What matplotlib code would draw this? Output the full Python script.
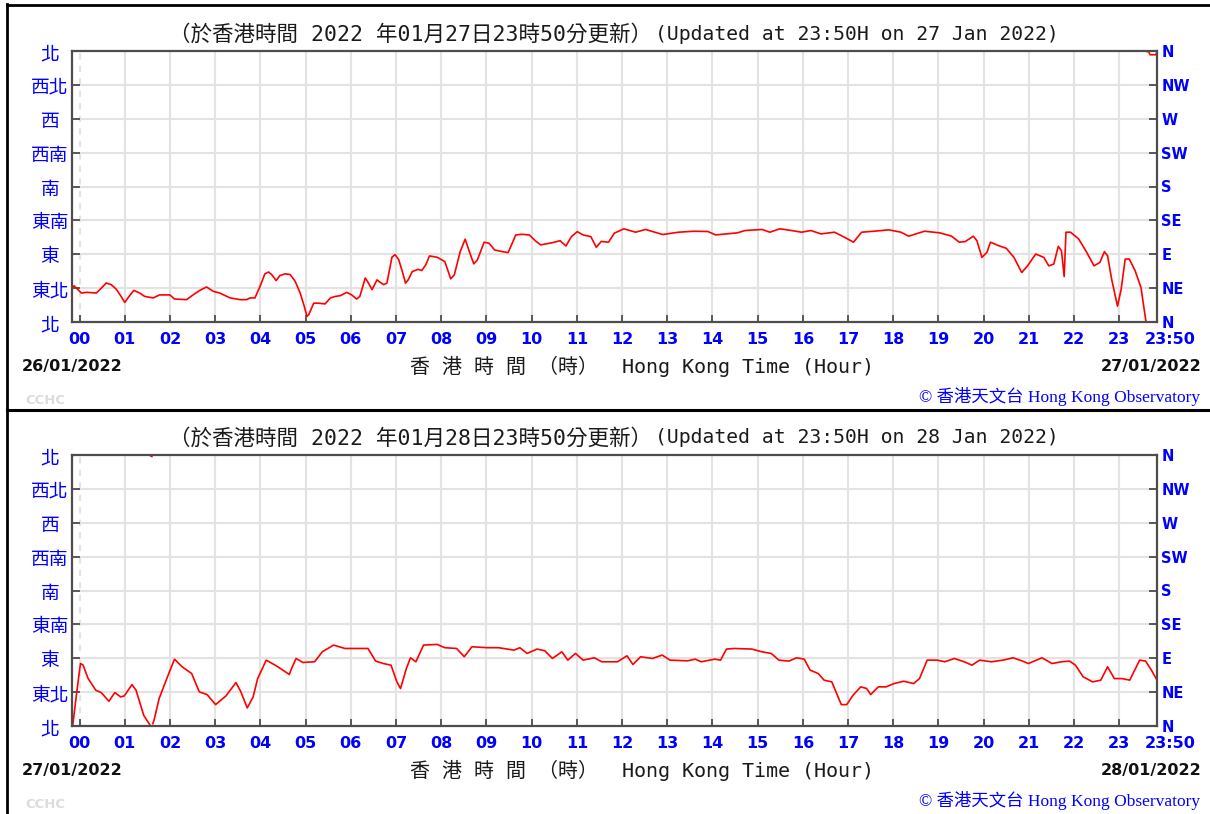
import matplotlib
matplotlib.use("Agg")
import matplotlib.pyplot as plt
from matplotlib.lines import Line2D
from matplotlib.transforms import ScaledTranslation
import numpy as np

# ---------------- data ----------------
hour_ticks = list(range(24)) + [23 + 50 / 60]
hour_labels = ["%02d" % h for h in range(24)] + ["23:50"]
dir_ticks = [0, 45, 90, 135, 180, 225, 270, 315, 360]
dir_labels_cn = ["北", "東北", "東", "東南", "南", "西南", "西", "西北", "北"]
dir_labels_en = ["N", "NE", "E", "SE", "S", "SW", "W", "NW", "N"]

titles_cn = [
    "（於香港時間 2022 年01月27日23時50分更新）",
    "（於香港時間 2022 年01月28日23時50分更新）",
]
titles_en = [
    "(Updated at 23:50H on 27 Jan 2022)",
    "(Updated at 23:50H on 28 Jan 2022)",
]
start_dates = ["26/01/2022", "27/01/2022"]
end_dates = ["27/01/2022", "28/01/2022"]

top_hours = [-0.167, -0.12, 0.04, 0.15, 0.37, 0.45, 0.59, 0.7, 0.81, 0.92, 1.0, 1.07, 1.2,
             1.33, 1.44, 1.63, 1.77, 2.0, 2.1, 2.37, 2.51, 2.66, 2.81, 2.96, 3.1, 3.33, 3.55,
             3.7, 3.77, 3.88, 3.99, 4.1, 4.18, 4.25, 4.35, 4.43, 4.55, 4.66, 4.77, 4.88, 4.97,
             5.03, 5.07, 5.18, 5.29, 5.43, 5.55, 5.66, 5.77, 5.91, 6.02, 6.13, 6.2, 6.32, 6.39,
             6.47, 6.58, 6.65, 6.73, 6.8, 6.91, 6.98, 7.06, 7.15, 7.21, 7.27, 7.36, 7.49, 7.57,
             7.66, 7.74, 7.91, 8.08, 8.21, 8.29, 8.42, 8.53, 8.61, 8.72, 8.8, 8.95, 9.06, 9.18,
             9.35, 9.48, 9.65, 9.78, 9.95, 10.08, 10.2, 10.46, 10.63, 10.76, 10.88, 11.01, 11.14,
             11.31, 11.43, 11.54, 11.7, 11.83, 12.04, 12.3, 12.52, 12.9, 13.25, 13.6, 13.9,
             14.07, 14.55, 14.72, 15.1, 15.27, 15.49, 15.75, 15.97, 16.18, 16.4, 16.7, 16.92,
             17.12, 17.3, 17.57, 17.9, 18.17, 18.34, 18.69, 19.03, 19.29, 19.46, 19.59, 19.77,
             19.85, 19.96, 20.07, 20.15, 20.33, 20.5, 20.67, 20.84, 20.97, 21.15, 21.33, 21.44,
             21.55, 21.65, 21.72, 21.78, 21.82, 21.92, 22.1, 22.27, 22.44, 22.57, 22.67, 22.74,
             22.83, 22.96, 23.04, 23.13, 23.22, 23.35, 23.48, 23.59, 23.6, 23.65, 23.68, 23.8,
             23.833]
top_dirs = [46.5, 48, 38.5, 39.4, 38.5, 43, 51.8, 49.6, 43.8, 34, 26, 32, 42,
            38.5, 34, 32, 36, 36, 30.5, 29.7, 36, 42, 46.5, 40.7, 38.5, 32, 29.7,
            29.7, 32, 32, 47, 64, 66.4, 63, 55, 61.6, 64, 63, 54, 38.5, 21,
            7.5, 9.7, 25, 25, 24, 32, 34, 35, 39.4, 36, 30.5, 34, 58.5, 51.8,
            43, 56, 52.7, 49.6, 51.8, 86, 89.5, 82.8, 65, 51.6, 56, 67, 70, 68.4,
            76, 87.8, 86, 80.3, 57.4, 62.6, 93.5, 110, 95.7, 77.2, 82.5, 106, 104.6, 95.7,
            93.5, 92.2, 115.6, 116.5, 115.6, 108, 102.4, 105.4, 108, 101, 113.4, 120, 115.6,
            113.4, 99.3, 107, 106, 118, 123.8, 119.3, 122.9, 116.2, 119.3, 120.6, 120.2,
            115.7, 118.4, 121.5, 122.9, 119.3, 123.8, 121.5, 119.3, 121.5, 117, 119.3, 112.6,
            106, 119.3, 120.6, 122.4, 119.3, 114, 120.6, 118.4, 114, 106, 106.8, 114,
            108, 85.8, 92.5, 106, 101.4, 97.9, 85.8, 65.7, 74.6, 90.3, 85.8, 74.6,
            76.9, 100.5, 94.7, 60.3, 119.3, 119.3, 110.4, 93.4, 74.6, 79.1, 93.4, 88,
            56.8, 21, 43.4, 83.6, 83.6, 68, 45.6, 0, 359.5, 359, 355, 355,
            358]

bot_hours = [-0.167, -0.16, -0.15, -0.07, 0.02, 0.08, 0.19, 0.36, 0.48, 0.65, 0.78, 0.91, 0.99,
             1.16, 1.25, 1.42, 1.55, 1.57, 1.6, 1.62, 1.65, 1.76, 1.93, 2.1, 2.27, 2.48, 2.65,
             2.82, 3.01, 3.24, 3.46, 3.57, 3.71, 3.84, 3.94, 4.13, 4.35, 4.52, 4.64, 4.69, 4.79,
             4.94, 5.2, 5.37, 5.62, 5.87, 6.38, 6.55, 6.72, 6.89, 7.02, 7.1, 7.23, 7.32, 7.44,
             7.61, 7.91, 8.08, 8.34, 8.51, 8.68, 9.02, 9.27, 9.61, 9.74, 9.9, 10.12, 10.29, 10.46,
             10.67, 10.8, 10.97, 11.14, 11.39, 11.55, 11.9, 12.11, 12.24, 12.41, 12.67, 12.89,
             13.06, 13.45, 13.62, 13.75, 14.05, 14.18, 14.31, 14.48, 14.87, 15.09, 15.3, 15.47,
             15.69, 15.86, 16.03, 16.16, 16.34, 16.47, 16.64, 16.85, 16.97, 17.11, 17.28, 17.41,
             17.5, 17.67, 17.84, 18.02, 18.23, 18.45, 18.58, 18.75, 18.97, 19.14, 19.35, 19.57,
             19.74, 19.91, 20.17, 20.43, 20.65, 20.86, 20.99, 21.29, 21.51, 21.72, 21.9, 22.03,
             22.2, 22.41, 22.59, 22.74, 22.89, 23.06, 23.23, 23.45, 23.58, 23.71, 23.833]
bot_dirs = [359, 358, 1, 41, 83, 80.8, 63, 47.5, 44.4, 32.9, 44.4, 38.6, 40,
            55, 47.5, 14.2, 2, 359, 358, 3, 8, 36.4, 63, 88.8, 78.6, 69.7, 45.3,
            41.8, 28.4, 40, 57.7, 45.3, 24, 38.6, 63, 87.5, 80, 73.3, 68.4, 76.4, 89.7,
            84.4, 85.3, 98.6, 107.5, 103, 103, 86.2, 83, 80.8, 58.6, 49.8, 76.4, 90.6, 85.3,
            107.5, 108.4, 104, 103, 92, 105.3, 104, 104, 100.8, 104, 96.4, 102.2, 100, 89.7,
            98.6, 87.5, 96.4, 87.5, 90.6, 85.3, 85.3, 93.3, 81.7, 92, 89.7, 94.2,
            87.5, 86.6, 88.8, 85.3, 88.8, 87.5, 102.2, 103, 102.2, 98.6, 96.4, 87.5,
            86.2, 90.6, 88.8, 74.2, 69.7, 60.9, 58.6, 28.4, 28.4, 40.9, 52, 49.8,
            41.8, 52, 52, 56.4, 59.5, 56.4, 63, 87.5, 87.5, 85.3, 89.7, 85.3,
            80.8, 87.5, 85.3, 87.5, 90.6, 86.2, 83, 90.6, 83, 85.3, 86.2, 80.8,
            65.3, 58.6, 60.9, 78.6, 63, 63, 60.9, 87.5, 86.2, 74.2, 60.9]

# ---------------- figure ----------------
W, H = 1210, 814
fig = plt.figure(figsize=(W / 100, H / 100), dpi=100)
fig.patch.set_facecolor("white")

CJK = ["Noto Sans CJK TC", "DejaVu Sans"]
MONO = ["DejaVu Sans Mono", "Noto Sans CJK TC"]
SERIF = ["Liberation Serif", "Noto Sans CJK TC"]
BLUE = "#0000ff"
GRID = "#e3e3e3"
SPINE = "#4d4d4d"


def fx(px):
    return px / W


def fy(py):
    return 1 - py / H


def segments(h, d):
    h = np.asarray(h, float)
    d = np.asarray(d, float)
    breaks = np.where(np.abs(np.diff(d)) > 180)[0] + 1
    return zip(np.split(h, breaks), np.split(d, breaks))


panels = [(top_hours, top_dirs), (bot_hours, bot_dirs)]
for i, (hrs, dirs) in enumerate(panels):
    off = i * 404
    ax = fig.add_axes([fx(72), fy(322 + off), 1085 / W, 271 / H])
    ax.set_xlim(-1 / 6, 23 + 50 / 60)
    ax.set_ylim(0, 360)

    for h in range(24):
        ax.axvline(h, color=GRID, lw=1.5, zorder=0,
                   ls=(0, (3, 3)) if h == 0 else "-")
    for d in dir_ticks[1:-1]:
        ax.axhline(d, color=GRID, lw=1.5, zorder=0)

    for sh, sd in segments(hrs, dirs):
        ax.plot(sh, sd, color="#ff0000", lw=1.2, zorder=3)

    for s in ax.spines.values():
        s.set_color(SPINE)
        s.set_linewidth(1.6)
        s.set_zorder(4)

    ax.set_xticks(hour_ticks)
    ax.set_xticklabels(hour_labels, fontsize=11.5, fontweight="bold",
                       color=BLUE, family="DejaVu Sans")
    ax.tick_params(axis="x", direction="in", length=5, width=1.3,
                   color=SPINE, pad=7)
    lbl = ax.get_xticklabels()[-1]
    lbl.set_transform(lbl.get_transform() +
                      ScaledTranslation(13 / 100, 0, fig.dpi_scale_trans))

    ax.set_yticks(dir_ticks)
    ax.set_yticklabels(dir_labels_cn, fontsize=13.5, color=BLUE,
                       family=CJK, ha="center")
    ax.tick_params(axis="y", direction="in", length=6, width=1.3,
                   color=SPINE, pad=16)

    ax2 = ax.twinx()
    ax2.set_ylim(0, 360)
    ax2.set_yticks(dir_ticks)
    ax2.set_yticklabels(dir_labels_en, fontsize=10.5, fontweight="bold",
                        color=BLUE, family="DejaVu Sans")
    ax2.tick_params(axis="y", direction="in", length=6, width=1.3,
                    color=SPINE, pad=3)
    for s in ax2.spines.values():
        s.set_visible(False)

    # texts
    fig.text(fx(652), fy(34 + off), titles_cn[i], ha="right", va="center",
             fontsize=15.5, family=MONO, color="#1a1a1a")
    fig.text(fx(655), fy(34 + off), titles_en[i], ha="left", va="center",
             fontsize=14.2, family=MONO, color="#1a1a1a")
    fig.text(fx(410), fy(366 + off),
             "香 港 時 間 （時）  Hong Kong Time (Hour)",
             ha="left", va="center", fontsize=14.4, family=MONO,
             color="#1a1a1a")
    fig.text(fx(22), fy(366 + off), start_dates[i], ha="left", va="center",
             fontsize=11.5, fontweight="bold", color="#111111",
             family="DejaVu Sans")
    fig.text(fx(1202), fy(366 + off), end_dates[i], ha="right", va="center",
             fontsize=11.5, fontweight="bold", color="#111111",
             family="DejaVu Sans")
    fig.text(fx(25), fy(400 + off), "CCHC", ha="left", va="center",
             fontsize=9.5, fontweight="bold", color="#dcdcdc",
             family="DejaVu Sans")
    fig.text(fx(1200), fy(396 + off), "© 香港天文台 Hong Kong Observatory",
             ha="right", va="center", fontsize=12.5, color=BLUE,
             family=SERIF)

# frame lines
fig.add_artist(Line2D([fx(7), fx(7)], [0, fy(4)], color="black", lw=2,
                      transform=fig.transFigure))
fig.add_artist(Line2D([fx(7), 1], [fy(4.5), fy(4.5)], color="black", lw=2,
                      transform=fig.transFigure))
fig.add_artist(Line2D([fx(7), 1], [fy(409.5), fy(409.5)], color="black",
                      lw=2.2, transform=fig.transFigure))

fig.savefig("out.png", dpi=100, facecolor="white")
